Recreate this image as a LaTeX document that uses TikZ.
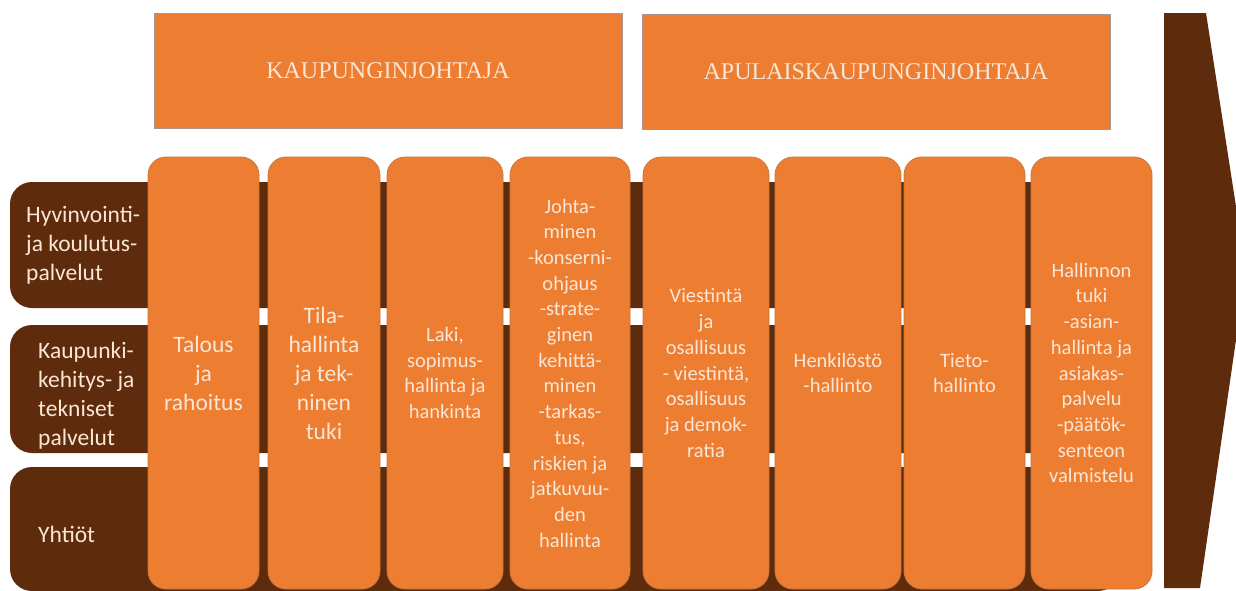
\documentclass[tikz,border=0pt]{standalone}
\usepackage{fontspec}
\setmainfont{Carlito}
\newfontfamily\serifK{Liberation Serif}
\definecolor{org}{HTML}{ED7D31}
\definecolor{brn}{HTML}{5E2C0C}
\definecolor{txt}{HTML}{FBE6D6}
\definecolor{edge}{HTML}{C8773F}
\definecolor{hedge}{HTML}{AA968C}
\begin{document}
\begin{tikzpicture}[x=1pt,y=-1pt,
  colbox/.style={draw=edge, line width=0.8pt, fill=org, rounded corners=18pt, minimum height=432pt, inner sep=0pt, text=txt, align=center, font=\fontsize{20.5}{25.7}\selectfont},
  bigcol/.style={font=\fontsize{23.5}{29}\selectfont},
  band/.style={fill=brn, rounded corners=22pt, inner sep=0pt, minimum width=1110pt},
  bandtxt/.style={text=txt, align=left, anchor=west, inner sep=0pt, font=\fontsize{23.5}{29}\selectfont},
  headbox/.style={fill=org, draw=hedge, line width=0.8pt, inner sep=0pt, minimum width=468pt, minimum height=115pt, text=txt, font=\serifK\fontsize{24}{28}\selectfont}]
\useasboundingbox (0,0) rectangle (1236,590);
\fill[white] (0,0) rectangle (1236,590);
\clip (0,0) rectangle (1236,590);
% header boxes
\node[headbox] (kj) at (388,70.5) {KAUPUNGINJOHTAJA};
\node[headbox] (akj) at (876,71.5) {APULAISKAUPUNGINJOHTAJA};
% bands
\node[band, minimum height=126pt] (b1) at (565,245) {};
\node[band, minimum height=128pt] (b2) at (565,389) {};
\node[band, minimum height=124pt] (b3) at (565,529) {};
\node[bandtxt] (t1) at (26,245) {Hyvinvointi-\\ja koulutus-\\palvelut};
\node[bandtxt] (t2) at (38,396) {Kaupunki-\\kehitys- ja\\tekniset\\palvelut};
\node[bandtxt] (t3) at (38,534) {Yhtiöt};
% columns
\node[colbox, bigcol, minimum width=111pt] (c1) at (203.5,373) {Talous\\ja\\rahoitus};
\node[colbox, bigcol, minimum width=112pt] (c2) at (324,373) {Tila-\\hallinta\\ja tek-\\ninen\\tuki};
\node[colbox, minimum width=116pt] (c3) at (445,373) {Laki,\\sopimus-\\hallinta ja\\hankinta};
\node[colbox, minimum width=120pt] (c4) at (570,373) {Johta-\\minen\\-konserni-\\ohjaus\\-strate-\\ginen\\kehittä-\\minen\\-tarkas-\\tus,\\riskien ja\\jatkuvuu-\\den\\hallinta};
\node[colbox, minimum width=126pt] (c5) at (706,373) {Viestintä\\ja\\osallisuus\\- viestintä,\\osallisuus\\ja demok-\\ratia};
\node[colbox, minimum width=126pt] (c6) at (838,373) {Henkilöstö\\-hallinto};
\node[colbox, minimum width=121pt] (c7) at (964.5,373) {Tieto-\\hallinto};
\node[colbox, minimum width=121pt] (c8) at (1091.5,373) {Hallinnon\\tuki\\-asian-\\hallinta ja\\asiakas-\\palvelu\\-päätök-\\senteon\\valmistelu};
% arrow
\fill[brn] (1164,13) -- (1206,13) -- (1246,271) -- (1200,588) -- (1164,588) -- cycle;
\end{tikzpicture}
\end{document}
